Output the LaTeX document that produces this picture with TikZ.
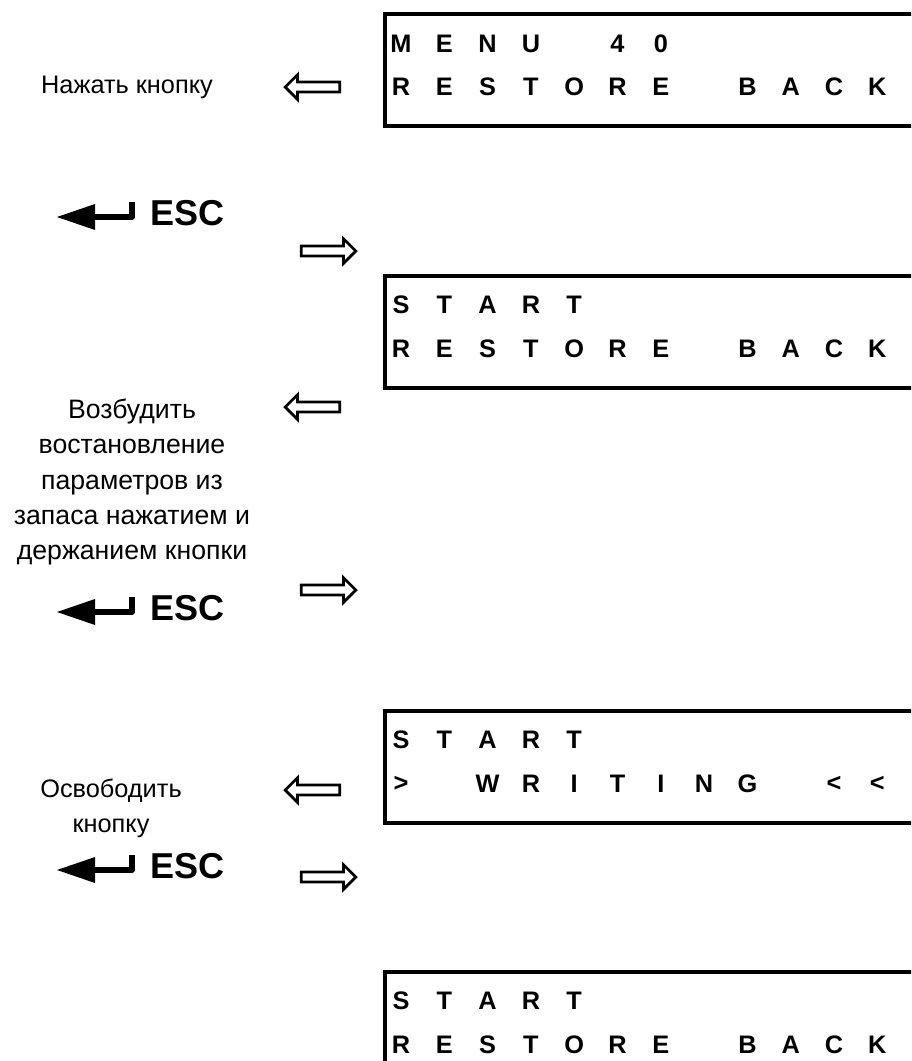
\documentclass[tikz,border=0pt]{standalone}
\usepackage{fontspec}
\setmainfont{Liberation Sans}
\usetikzlibrary{shapes.arrows}
\begin{document}
\begin{tikzpicture}[
    x=0.75pt, y=-0.75pt,
    display/.style={draw, line width=3pt, anchor=north west, minimum width=420pt, minimum height=84pt, inner sep=0pt},
    cell/.style={font=\bfseries\fontsize{19}{19}\selectfont, inner sep=0pt},
    hint/.style={font=\fontsize{19}{26.3}\selectfont, align=center},
    esc/.style={font=\bfseries\fontsize{27}{27}\selectfont, inner sep=0pt, anchor=west},
    hollow/.style={single arrow, draw, line width=2pt, inner xsep=0pt, inner ysep=2.8pt, minimum height=41pt, single arrow head extend=5.5pt}
  ]
  \useasboundingbox (0,0) rectangle (911,1061);
  \clip (0,0) rectangle (911,1061);
  % displays
  \foreach \n/\t in {menu/12, start/274, write/709, done/970}
    \node[display] (\n) at (383,\t) {};
  % upper rows
  \foreach \i/\c in {0/M,1/E,2/N,3/U,5/4,6/0}
    \node[cell] (m-\i) at (401+43.3*\i, 44) {\c};
  \foreach \t in {274,709,970}
    \foreach \i/\c in {0/S,1/T,2/A,3/R,4/T}
      \node[cell] (s\t-\i) at (401+43.3*\i, \t+31) {\c};
  % lower rows
  \foreach \t in {12,274,970}
    \foreach \i/\c in {0/R,1/E,2/S,3/T,4/O,5/R,6/E,8/B,9/A,10/C,11/K}
      \node[cell] (r\t-\i) at (401+43.3*\i, \t+75) {\c};
  \foreach \i/\c in {0/>,2/W,3/R,4/I,5/T,6/I,7/N,8/G,10/<,11/<}
    \node[cell] (w-\i) at (401+43.3*\i, 784) {\c};
  % hints
  \node[hint] (press) at (127,87) {Нажать кнопку};
  \node[hint, font=\fontsize{20}{26.3}\selectfont] (excite) at (132,482) {Возбудить\\востановление\\параметров из\\запаса нажатием и\\держанием кнопки};
  \node[hint] (release) at (111,808) {Освободить\\кнопку};
  % keys
  \foreach \n/\y in {1/213, 2/608, 3/866} {
    \node[esc] (esc\n) at (150,\y) {ESC};
    \fill (57,\y+4) -- (95,\y-9) -- (95,\y+17) -- cycle;
    \draw[line width=4pt, line join=round] (94,\y+4) -- (132,\y+4) -- (132,\y-11);
  }
  % arrows
  \foreach \n/\y in {1/87, 2/407, 3/790}
    \node[hollow, shape border rotate=180] (back\n) at (315,\y) {};
  \foreach \n/\y in {1/251, 2/590, 3/877}
    \node[hollow] (next\n) at (326,\y) {};
\end{tikzpicture}
\end{document}
